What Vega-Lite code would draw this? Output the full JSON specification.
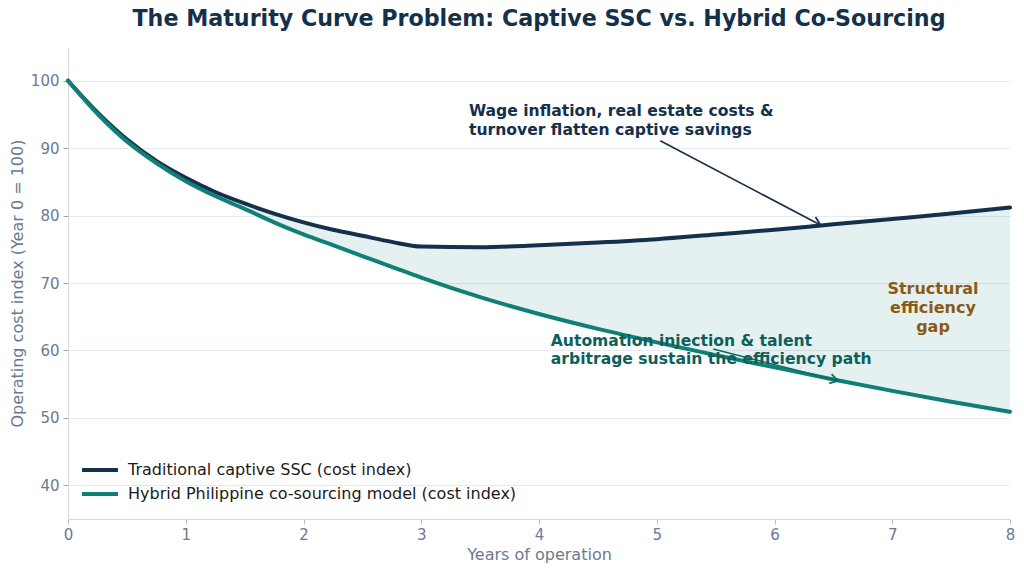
{
  "$schema": "https://vega.github.io/schema/vega-lite/v6.json",
  "width": 942,
  "height": 472,
  "autosize": {"type": "none"},
  "padding": {"left": 68, "top": 47, "right": 14, "bottom": 54},
  "background": "white",
  "config": {"font": "DejaVu Sans", "view": {"stroke": null}},
  "title": {
    "text": "The Maturity Curve Problem: Captive SSC vs. Hybrid Co-Sourcing",
    "fontSize": 22.2,
    "fontWeight": "bold",
    "color": "#14304a",
    "anchor": "middle",
    "offset": 17
  },
  "datasets": {
    "curves": [
      {"year": 0, "model": "captive", "index": 100},
      {"year": 0.25, "model": "captive", "index": 95.3},
      {"year": 0.5, "model": "captive", "index": 91.3},
      {"year": 0.75, "model": "captive", "index": 88.1},
      {"year": 1, "model": "captive", "index": 85.6},
      {"year": 1.25, "model": "captive", "index": 83.5},
      {"year": 1.5, "model": "captive", "index": 81.8},
      {"year": 1.75, "model": "captive", "index": 80.3},
      {"year": 2, "model": "captive", "index": 79.0},
      {"year": 2.25, "model": "captive", "index": 77.9},
      {"year": 2.5, "model": "captive", "index": 77.0},
      {"year": 2.75, "model": "captive", "index": 76.1},
      {"year": 3, "model": "captive", "index": 75.4},
      {"year": 3.5, "model": "captive", "index": 75.3},
      {"year": 4, "model": "captive", "index": 75.6},
      {"year": 4.5, "model": "captive", "index": 76.0},
      {"year": 5, "model": "captive", "index": 76.5},
      {"year": 5.5, "model": "captive", "index": 77.2},
      {"year": 6, "model": "captive", "index": 77.9},
      {"year": 6.5, "model": "captive", "index": 78.7},
      {"year": 7, "model": "captive", "index": 79.5},
      {"year": 7.5, "model": "captive", "index": 80.3},
      {"year": 8, "model": "captive", "index": 81.2},
      {"year": 0, "model": "hybrid", "index": 100},
      {"year": 0.25, "model": "hybrid", "index": 95.1},
      {"year": 0.5, "model": "hybrid", "index": 91.0},
      {"year": 0.75, "model": "hybrid", "index": 87.8},
      {"year": 1, "model": "hybrid", "index": 85.1},
      {"year": 1.25, "model": "hybrid", "index": 82.9},
      {"year": 1.5, "model": "hybrid", "index": 81.0},
      {"year": 1.75, "model": "hybrid", "index": 79.0},
      {"year": 2, "model": "hybrid", "index": 77.2},
      {"year": 2.25, "model": "hybrid", "index": 75.6},
      {"year": 2.5, "model": "hybrid", "index": 74.0},
      {"year": 2.75, "model": "hybrid", "index": 72.4},
      {"year": 3, "model": "hybrid", "index": 70.8},
      {"year": 3.5, "model": "hybrid", "index": 67.9},
      {"year": 4, "model": "hybrid", "index": 65.4},
      {"year": 4.5, "model": "hybrid", "index": 63.2},
      {"year": 5, "model": "hybrid", "index": 61.2},
      {"year": 5.5, "model": "hybrid", "index": 59.3},
      {"year": 6, "model": "hybrid", "index": 57.5},
      {"year": 6.5, "model": "hybrid", "index": 55.7},
      {"year": 7, "model": "hybrid", "index": 54.0},
      {"year": 7.5, "model": "hybrid", "index": 52.4},
      {"year": 8, "model": "hybrid", "index": 50.9}
    ],
    "notes": [
      {"note": "wage", "year": 3.405, "index": 96.6, "label": "Wage inflation, real estate costs &\nturnover flatten captive savings"},
      {"note": "automation", "year": 4.1, "index": 62.5, "label": "Automation injection & talent\narbitrage sustain the efficiency path"},
      {"note": "gap", "year": 7.346, "index": 70.3, "label": "Structural\nefficiency\ngap"}
    ],
    "arrows": [
      {"arrow": "wage", "year": 5.03, "index": 91.1, "year2": 6.39, "index2": 78.6},
      {"arrow": "automation", "year": 5.48, "index": 60.2, "year2": 6.54, "index2": 55.5}
    ]
  },
  "encoding": {
    "x": {
      "field": "year",
      "type": "quantitative",
      "title": "Years of operation",
      "scale": {"domain": [0, 8], "nice": false},
      "axis": {
        "values": [0, 1, 2, 3, 4, 5, 6, 7, 8],
        "grid": false,
        "labelFlush": false,
        "domainColor": "#d3dae3",
        "tickColor": "#b3bdca",
        "tickSize": 5,
        "labelColor": "#6b7a90",
        "labelFontSize": 15,
        "labelPadding": 3,
        "titleColor": "#6b7a90",
        "titleFontSize": 16,
        "titleFontWeight": "normal",
        "titlePadding": 4
      }
    },
    "y": {
      "field": "index",
      "type": "quantitative",
      "title": "Operating cost index (Year 0 = 100)",
      "scale": {"domain": [35, 105], "nice": false, "zero": false},
      "axis": {
        "values": [40, 50, 60, 70, 80, 90, 100],
        "grid": true,
        "gridColor": "#e6eaf0",
        "domainColor": "#d3dae3",
        "tickColor": "#9aa5b4",
        "tickSize": 5,
        "labelColor": "#6b7a90",
        "labelFontSize": 15,
        "labelPadding": 4,
        "titleColor": "#6b7a90",
        "titleFontSize": 16,
        "titleFontWeight": "normal",
        "titlePadding": 5
      }
    }
  },
  "layer": [
    {
      "data": {"name": "curves"},
      "transform": [{"pivot": "model", "value": "index", "groupby": ["year"]}],
      "mark": {"type": "area", "color": "#0f7f78", "opacity": 0.11, "interpolate": "monotone"},
      "encoding": {
        "y": {"field": "captive", "type": "quantitative", "title": "Operating cost index (Year 0 = 100)"},
        "y2": {"field": "hybrid"}
      }
    },
    {
      "data": {"name": "curves"},
      "mark": {"type": "line", "strokeWidth": 4, "interpolate": "monotone", "strokeCap": "round"},
      "encoding": {
        "color": {
          "field": "model",
          "type": "nominal",
          "scale": {"domain": ["captive", "hybrid"], "range": ["#14304a", "#0f7f78"]},
          "legend": {
            "orient": "none",
            "legendX": 24,
            "legendY": 415,
            "title": null,
            "symbolType": "M-3,0L3,0",
            "symbolStrokeWidth": 4,
            "symbolSize": 144,
            "labelFontSize": 16,
            "labelColor": "#1a1a1a",
            "labelOffset": 20,
            "labelLimit": 0,
            "rowPadding": 8,
            "labelExpr": "datum.label == 'captive' ? 'Traditional captive SSC (cost index)' : 'Hybrid Philippine co-sourcing model (cost index)'"
          }
        }
      }
    },
    {
      "data": {"name": "arrows"},
      "transform": [{"filter": "datum.arrow == 'wage'"}],
      "mark": {"type": "rule", "color": "#14304a", "strokeWidth": 1.6},
      "encoding": {
        "x2": {"field": "year2"},
        "y2": {"field": "index2"}
      }
    },
    {
      "data": {"name": "arrows"},
      "transform": [{"filter": "datum.arrow == 'wage'"}],
      "mark": {"type": "point", "shape": "M-1,-0.6L0,0L-1,0.6", "filled": false, "color": "#14304a", "strokeWidth": 1.8, "size": 256, "angle": 27.7, "opacity": 1},
      "encoding": {
        "x": {"field": "year2", "type": "quantitative", "title": "Years of operation"},
        "y": {"field": "index2", "type": "quantitative", "title": "Operating cost index (Year 0 = 100)"}
      }
    },
    {
      "data": {"name": "arrows"},
      "transform": [{"filter": "datum.arrow == 'automation'"}],
      "mark": {"type": "rule", "color": "#0f6b64", "strokeWidth": 1.6},
      "encoding": {
        "x2": {"field": "year2"},
        "y2": {"field": "index2"}
      }
    },
    {
      "data": {"name": "arrows"},
      "transform": [{"filter": "datum.arrow == 'automation'"}],
      "mark": {"type": "point", "shape": "M-1,-0.6L0,0L-1,0.6", "filled": false, "color": "#0f6b64", "strokeWidth": 1.8, "size": 256, "angle": 14.4, "opacity": 1},
      "encoding": {
        "x": {"field": "year2", "type": "quantitative", "title": "Years of operation"},
        "y": {"field": "index2", "type": "quantitative", "title": "Operating cost index (Year 0 = 100)"}
      }
    },
    {
      "data": {"name": "notes"},
      "transform": [{"filter": "datum.note == 'wage'"}],
      "mark": {"type": "text", "align": "left", "baseline": "top", "lineBreak": "\n", "lineHeight": 19, "fontSize": 15.6, "fontWeight": "bold", "color": "#14304a"},
      "encoding": {"text": {"field": "label"}}
    },
    {
      "data": {"name": "notes"},
      "transform": [{"filter": "datum.note == 'automation'"}],
      "mark": {"type": "text", "align": "left", "baseline": "top", "lineBreak": "\n", "lineHeight": 18, "fontSize": 15.6, "fontWeight": "bold", "color": "#0e5f5a"},
      "encoding": {"text": {"field": "label"}}
    },
    {
      "data": {"name": "notes"},
      "transform": [{"filter": "datum.note == 'gap'"}],
      "mark": {"type": "text", "align": "center", "baseline": "top", "lineBreak": "\n", "lineHeight": 19, "fontSize": 16, "fontWeight": "bold", "color": "#8a5a14"},
      "encoding": {"text": {"field": "label"}}
    }
  ]
}
